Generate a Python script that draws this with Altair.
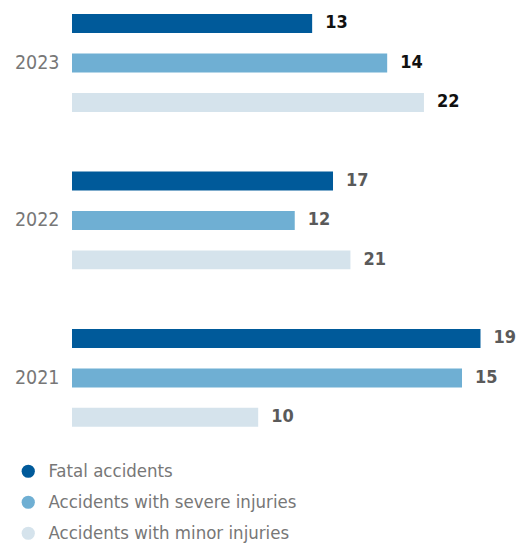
import altair as alt
import pandas as pd

years = ["2023", "2022", "2021"]
series = ["Fatal accidents", "Accidents with severe injuries", "Accidents with minor injuries"]
colors = ["#005a9a", "#6fafd3", "#d5e3ec"]

# printed values
fatal = [13, 17, 19]
severe = [14, 12, 15]
minor = [22, 21, 10]

# drawn bar lengths (same units as the longest bar = 19)
fatal_len = [11.17, 12.14, 19.0]
severe_len = [14.66, 10.36, 18.14]
minor_len = [16.37, 12.95, 8.66]

rows = []
for i, y in enumerate(years):
    for s, v, l in zip(series, [fatal[i], severe[i], minor[i]], [fatal_len[i], severe_len[i], minor_len[i]]):
        rows.append({"year": y, "series": s, "value": v, "length": l})
df = pd.DataFrame(rows)

FONT = "DejaVu Sans Condensed, Liberation Sans Narrow, sans-serif"

y_enc = alt.Y("year:N", sort=years, title=None,
              scale=alt.Scale(paddingInner=0.328, paddingOuter=0),
              axis=alt.Axis(domain=False, ticks=False, labelFontSize=19.5, labelColor="#777777",
                            labelFont=FONT, labelPadding=13))
yoff = alt.YOffset("series:N", sort=series,
                   scale=alt.Scale(paddingInner=0.519, paddingOuter=0.1))
x_enc = alt.X("length:Q", scale=alt.Scale(domain=[0, 20]), axis=None, title=None)

bars = alt.Chart(df).mark_bar().encode(
    x=x_enc,
    y=y_enc,
    yOffset=yoff,
    color=alt.Color("series:N", sort=series, scale=alt.Scale(domain=series, range=colors),
                    legend=alt.Legend(title=None, orient="none", legendX=-53, legendY=452,
                                      symbolType="circle", symbolSize=175, symbolStrokeWidth=0,
                                      labelFontSize=18.5, labelColor="#777777", labelFont=FONT,
                                      labelOffset=11, rowPadding=12, labelLimit=400)),
)

labels = alt.Chart(df).mark_text(align="left", baseline="middle", dx=13, fontSize=18,
                                 fontWeight="bold", font=FONT).encode(
    x=x_enc,
    y=y_enc,
    yOffset=yoff,
    text="value:Q",
    color=alt.condition(alt.datum.year == "2023", alt.value("#111111"), alt.value("#5a5a5a")),
)

chart = alt.layer(bars, labels).properties(
    width=430, height=420.8,
    autosize=alt.AutoSizeParams(type="none"),
    padding={"left": 64, "top": 2, "right": 14, "bottom": 114},
).configure_view(stroke=None)

chart.save("out.html", embed_options={"renderer": "svg", "actions": False})
